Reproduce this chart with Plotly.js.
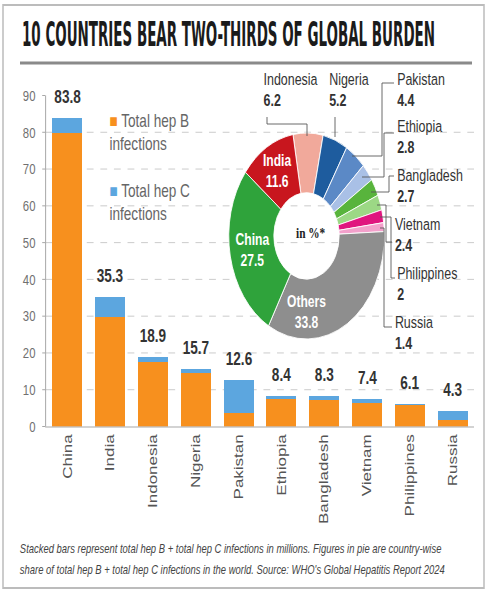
<!DOCTYPE html>
<html>
<head>
<meta charset="utf-8">
<script src="https://cdn.plot.ly/plotly-3.0.1.min.js"></script>
<style>
html,body{margin:0;padding:0;width:487px;height:592px;overflow:hidden;background:#fff;}
#wrap{width:645px;height:592px;transform:scaleX(0.755039);transform-origin:0 0;}
</style>
</head>
<body>
<div id="wrap"></div>
<script>
// ---------- DATA ----------
const countries = ['China','India','Indonesia','Nigeria','Pakistan','Ethiopia','Bangladesh','Vietnam','Philippines','Russia'];
const hepB = [79.7, 29.8, 17.5, 14.6, 3.8, 7.5, 7.2, 6.5, 5.9, 1.8];
const hepC = [4.1, 5.5, 1.4, 1.1, 8.8, 0.9, 1.1, 0.9, 0.2, 2.5];
const yTicks = [0,10,20,30,40,50,60,70,80,90];

const pieLabels = ['Indonesia','Nigeria','Pakistan','Ethiopia','Bangladesh','Vietnam','Philippines','Russia','Others','China','India'];
const pieShares = [6.2, 5.2, 4.4, 2.8, 2.7, 2.4, 2, 1.4, 33.8, 27.5, 11.6];
const insideLabels = ['Others','China','India'];

const titleText = '10 COUNTRIES BEAR TWO-THIRDS OF GLOBAL BURDEN';
const footer1 = 'Stacked bars represent total hep B + total hep C infections in millions. Figures in pie are country-wise';
const footer2 = "share of total hep B + total hep C infections in the world. Source: WHO's Global Hepatitis Report 2024";

// ---------- STYLE ----------
const W = 645, H = 592, S = 487/645;
const ORANGE = '#F7901E', BLUE = '#5CA6DF';
const pieColors = ['#F1A99B','#1E5C9E','#5B89C6','#A9C0E6','#58B43C','#9CD885','#E0157F','#F3A0CB','#8E8E8E','#2FA33B','#C8161E'];
const FONT = 'Liberation Sans, Arial, sans-serif';

// reference-pixel -> paper helpers
const PX = x => x/487;
const PY = y => 1 - y/592;

const totals = hepB.map((b,i) => +(b + hepC[i]).toFixed(1));

const traces = [
  {type:'bar', name:'Total hep B infections', x:countries, y:hepB, marker:{color:ORANGE}, showlegend:false, hoverinfo:'skip'},
  {type:'bar', name:'Total hep C infections', x:countries, y:hepC, marker:{color:BLUE}, showlegend:false, hoverinfo:'skip'},
  {type:'pie', labels:pieLabels, values:pieShares, sort:false, direction:'clockwise', rotation:-10,
   hole:0.42, marker:{colors:pieColors, line:{color:'#ffffff', width:1}},
   text: pieLabels.map((l,i) => insideLabels.includes(l) ? l + '<br>' + pieShares[i] : ''),
   textinfo:'text', textposition:'inside', insidetextorientation:'horizontal',
   insidetextfont:{family:FONT, size:16, color:'#ffffff', weight:700},
   domain:{x:[0.6294-103/W, 0.6294+103/W], y:[0.6014-103/H, 0.6014+103/H]},
   showlegend:false, hoverinfo:'skip'}
];

const annotations = [];
// bar totals
countries.forEach((c,i) => {
  annotations.push({x:c, y:totals[i], xref:'x', yref:'y', text:totals[i].toFixed(1), showarrow:false,
    yanchor:'bottom', yshift:9, font:{family:FONT, size:18, color:'#333333', weight:700}});
});
// legend
annotations.push({xref:'paper', yref:'paper', x:PX(108), y:PY(132.5), xanchor:'left', yanchor:'middle', align:'left', showarrow:false,
  text:'<span style="color:'+ORANGE+'">■</span> Total hep B<br>infections', font:{family:FONT, size:18, color:'#666666'}});
annotations.push({xref:'paper', yref:'paper', x:PX(108), y:PY(202.5), xanchor:'left', yanchor:'middle', align:'left', showarrow:false,
  text:'<span style="color:'+BLUE+'">■</span> Total hep C<br>infections', font:{family:FONT, size:18, color:'#666666'}});
// pie centre
annotations.push({xref:'paper', yref:'paper', x:PX(311), y:PY(233), showarrow:false, text:'in %*',
  font:{family:'Liberation Serif, serif', size:15, color:'#222222', weight:700}});
// pie outside labels
const outPos = {
  Indonesia:[262, 89.5], Nigeria:[328, 89.5], Pakistan:[396, 90], Ethiopia:[396, 137], Bangladesh:[396, 185],
  Vietnam:[393, 235], Philippines:[396, 283], Russia:[393, 332.5]
};
pieLabels.forEach((l,i) => {
  if (!outPos[l]) return;
  const p = outPos[l];
  annotations.push({xref:'paper', yref:'paper', x:PX(p[0]), y:PY(p[1]), xanchor:'left', yanchor:'middle', align:'left', showarrow:false,
    text: l + '<br><b>' + pieShares[i] + '</b>', font:{family:FONT, size:16.5, color:'#333333'}});
});
// footer
annotations.push({xref:'paper', yref:'paper', x:PX(18), y:PY(549), xanchor:'left', yanchor:'middle', showarrow:false,
  text:footer1, font:{family:FONT, size:12.5, color:'#444444', style:'italic'}});
annotations.push({xref:'paper', yref:'paper', x:PX(18), y:PY(570), xanchor:'left', yanchor:'middle', showarrow:false,
  text:footer2, font:{family:FONT, size:12.5, color:'#444444', style:'italic'}});

// leader lines
const leaders = [
  [[267,117],[267,124],[307,124],[307,136]],
  [[335,117],[335,137]],
  [[394,83],[382,83],[382,156],[352,156]],
  [[394,133],[384,133],[384,177],[362,177]],
  [[394,176],[389,176],[389,192],[371,192]],
  [[377,205],[386,205],[386,242],[392,242]],
  [[380,217],[391,217],[391,278],[395,278]],
  [[380,228],[384,228],[384,327],[392,327]]
];
const shapes = leaders.map(pts => ({type:'path', xref:'paper', yref:'paper',
  path: pts.map((p,k) => (k ? 'L' : 'M') + PX(p[0]) + ',' + PY(p[1])).join(' '),
  line:{color:'#555555', width:1}}));
shapes.push({type:'line', xref:'paper', yref:'paper', x0:PX(20), x1:PX(472), y0:PY(63), y1:PY(63), line:{color:'#8a8a8a', width:3}});
shapes.push({type:'rect', xref:'paper', yref:'paper', x0:PX(3), x1:PX(484), y0:PY(5), y1:PY(588), line:{color:'#bcbcbc', width:2}});

const layout = {
  width:W, height:H, margin:{l:0, r:0, t:0, b:0},
  paper_bgcolor:'#ffffff', plot_bgcolor:'#ffffff',
  barmode:'stack', bargap:0.3,
  title:{text:titleText, xref:'container', yref:'container', x:PX(22), xanchor:'left', y:PY(34), yanchor:'middle',
    font:{family:'Liberation Sans Narrow, DejaVu Sans Condensed, Liberation Sans, sans-serif', size:34, color:'#1b1b1b', weight:700}},
  xaxis:{domain:[PX(46), PX(474)], showline:true, linecolor:'#9a9a9a', linewidth:1, ticks:'', tickangle:-90,
    tickfont:{family:FONT, size:17, color:'#555555'}, fixedrange:true},
  yaxis:{domain:[PY(426.5), PY(95.5)], range:[0,90], tickvals:yTicks, ticktext:yTicks.map(String),
    showline:true, linecolor:'#9a9a9a', ticks:'outside', ticklen:4, tickcolor:'#9a9a9a', ticklabelstandoff:6,
    showgrid:true, gridcolor:'#c4c4c4', griddash:'dash', gridwidth:1, zeroline:false,
    tickfont:{family:FONT, size:15, color:'#707070'}, fixedrange:true},
  annotations:annotations, shapes:shapes
};

Plotly.newPlot('wrap', traces, layout, {staticPlot:true, displayModeBar:false}).then(gd => {
  const t = gd.querySelector('.gtitle');
  if (t) {
    const bb = t.getBBox();
    const target = 413 / S;
    const k = target / bb.width;
    const x0 = bb.x;
    t.setAttribute('transform', 'translate(' + x0 + ',0) scale(' + k + ',1) translate(' + (-x0) + ',0)');
  }
});
</script>
</body>
</html>
